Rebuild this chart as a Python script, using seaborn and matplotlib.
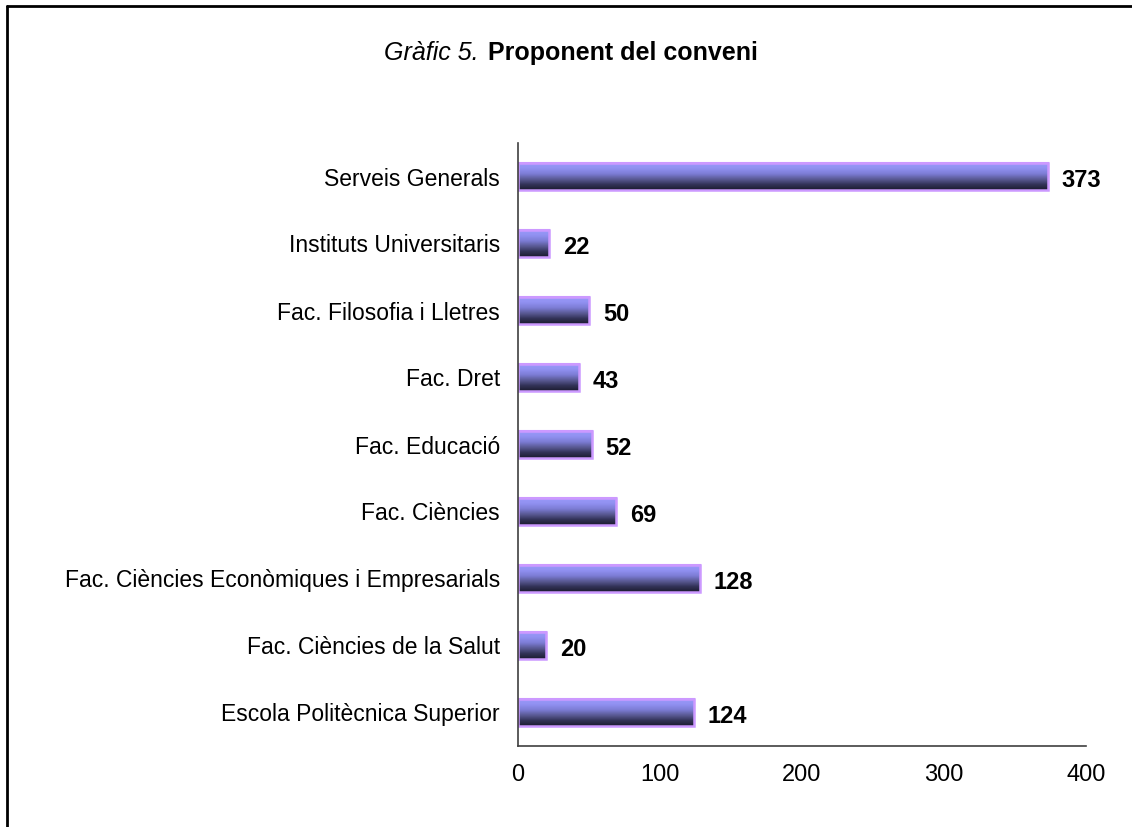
import matplotlib
matplotlib.use('Agg')

import numpy as np
import pandas as pd
import matplotlib.pyplot as plt
import seaborn as sns
from matplotlib.colors import LinearSegmentedColormap
from matplotlib.lines import Line2D

# data (top to bottom)
categories = [
    "Serveis Generals",
    "Instituts Universitaris",
    "Fac. Filosofia i Lletres",
    "Fac. Dret",
    "Fac. Educació",
    "Fac. Ciències",
    "Fac. Ciències Econòmiques i Empresarials",
    "Fac. Ciències de la Salut",
    "Escola Politècnica Superior",
]
counts = [373, 22, 50, 43, 52, 69, 128, 20, 124]
x_ticks = [0, 100, 200, 300, 400]

df = pd.DataFrame({"Proponent": categories, "Convenis": counts})

sns.set_style("white")
plt.rcParams["font.family"] = ["Liberation Sans", "DejaVu Sans"]
plt.rcParams["text.color"] = "black"
plt.rcParams["xtick.color"] = "black"
plt.rcParams["ytick.color"] = "black"

W, H = 1132, 827
fig = plt.figure(figsize=(W / 100, H / 100), dpi=100)
ax = fig.add_axes([518 / W, 81 / H, 568 / W, 603 / H])

sns.barplot(data=df, x="Convenis", y="Proponent", orient="h", width=0.40,
            color="#9090f0", edgecolor="#cc99ff", linewidth=1.5, ax=ax)

# vertical gradient inside each bar (light purple on top -> dark navy at bottom)
grad_cmap = LinearSegmentedColormap.from_list(
    "bar_grad", ["#9a9afa", "#9090f0", "#7c7cd4", "#5a5a94", "#333358", "#1c1c30"])
grad = np.linspace(0, 1, 64).reshape(-1, 1)
for patch in list(ax.patches):
    x0, y0 = patch.get_x(), patch.get_y()
    w, h = patch.get_width(), patch.get_height()
    im = ax.imshow(grad, cmap=grad_cmap, aspect="auto", origin="upper",
                   extent=[x0, x0 + w, y0 + h, y0], zorder=patch.get_zorder() + 0.1,
                   interpolation="bilinear")
    im.set_clip_path(patch)
    edge = plt.Rectangle((x0, y0), w, h, fill=False, edgecolor="#cc99ff",
                         linewidth=1.8, zorder=patch.get_zorder() + 0.2)
    ax.add_patch(edge)

# value labels
for i, v in enumerate(counts):
    ax.annotate(str(v), xy=(v, i), xytext=(10, -3), textcoords="offset points",
                va="center", ha="left", fontsize=17, fontweight="bold",
                color="black")

ax.set_xlim(0, 400)
ax.set_ylim(len(categories) - 0.5, -0.5)
ax.set_xticks(x_ticks)
ax.set_xticklabels([str(t) for t in x_ticks], fontsize=17)
ax.set_yticks(range(len(categories)))
ax.set_yticklabels(categories, fontsize=16.5)
ax.set_xlabel("")
ax.set_ylabel("")

# ticks on the y-axis sit between the categories
ax.set_yticks(np.arange(-0.5, len(categories)), minor=True)
ax.tick_params(axis="y", which="major", length=0, pad=13)
ax.tick_params(axis="y", which="minor", length=5, width=1, color="#404040",
               direction="out")
ax.tick_params(axis="x", which="major", length=5, width=1, color="#404040",
               direction="out", pad=8)

for side in ["top", "right"]:
    ax.spines[side].set_visible(False)
for side in ["left", "bottom"]:
    ax.spines[side].set_color("#404040")
    ax.spines[side].set_linewidth(1.2)

# title: italic part + bold part
fig.text(479 / W, 1 - 53 / H, "Gràfic 5.", ha="right", va="center",
         fontsize=18, style="italic")
fig.text(488 / W, 1 - 53 / H, "Proponent del conveni", ha="left", va="center",
         fontsize=18, fontweight="bold")

# frame around the chart (left and top edges visible)
fig.add_artist(Line2D([7 / W, 7 / W], [0, 1 - 6 / H], transform=fig.transFigure,
                      color="black", linewidth=2))
fig.add_artist(Line2D([7 / W, 1], [1 - 6 / H, 1 - 6 / H], transform=fig.transFigure,
                      color="black", linewidth=2))

fig.savefig("out.png", dpi=100)
plt.close(fig)
print("Saved: out.png")
